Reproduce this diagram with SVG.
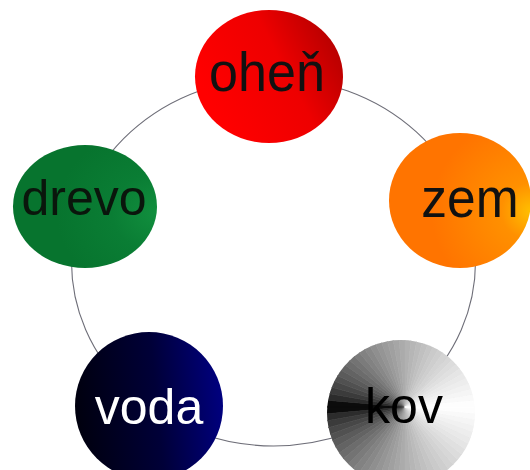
<svg xmlns="http://www.w3.org/2000/svg" width="530" height="470" viewBox="0 0 530 470">
<style>
.ring{fill:none;stroke:#6e6e78;stroke-width:1.1}
.lbl{font-family:"Liberation Sans",Arial,sans-serif;text-anchor:middle}
.w{fill:currentColor;stroke:currentColor;stroke-width:0.7}
</style>
<defs>
<linearGradient id="gOhen" x1="0.15" y1="0.8" x2="1" y2="0.4">
<stop offset="0" stop-color="#ff0000"/>
<stop offset="0.6" stop-color="#ee0000"/>
<stop offset="1" stop-color="#bb0000"/>
</linearGradient>
<radialGradient id="gZem" cx="1" cy="0.58" r="0.7">
<stop offset="0" stop-color="#ffc000"/>
<stop offset="0.3" stop-color="#ff9000"/>
<stop offset="1" stop-color="#ff7400"/>
</radialGradient>
<radialGradient id="gDrevo" cx="1" cy="0.55" r="0.7">
<stop offset="0" stop-color="#118f3e"/>
<stop offset="0.45" stop-color="#0a7d34"/>
<stop offset="1" stop-color="#07742e"/>
</radialGradient>
<linearGradient id="gVoda" x1="0" y1="0.5" x2="1" y2="0.4">
<stop offset="0" stop-color="#00000e"/>
<stop offset="0.55" stop-color="#000038"/>
<stop offset="1" stop-color="#000080"/>
</linearGradient>
<clipPath id="cKov"><ellipse cx="401" cy="413" rx="74" ry="73"/></clipPath>
</defs>
<rect width="530" height="470" fill="#ffffff"/>
<g id="connectors">
<ellipse class="ring" cx="273.5" cy="262" rx="202" ry="184"/>
</g>
<g id="ohen">
<ellipse cx="269" cy="76.5" rx="74" ry="66.5" fill="url(#gOhen)"/>
<text class="lbl" transform="translate(267,90.5) scale(0.93,1)" font-size="56" fill="#111">oheň</text>
</g>
<g id="zem">
<ellipse cx="460" cy="200.5" rx="71" ry="67.5" fill="url(#gZem)"/>
<text class="lbl" transform="translate(470,217) scale(0.92,1)" font-size="56" fill="#111">zem</text>
</g>
<g id="drevo">
<ellipse cx="85" cy="206.5" rx="72" ry="61.5" fill="url(#gDrevo)"/>
<text class="lbl" x="84" y="215" font-size="50" fill="#0a160c">drevo</text>
</g>
<g id="voda">
<ellipse cx="149" cy="406" rx="74" ry="74" fill="url(#gVoda)"/>
<text class="lbl" x="149" y="424" font-size="50" fill="#ffffff">voda</text>
</g>
<g id="kov">
<g clip-path="url(#cKov)">
<path class="w" color="#0c0c0c" d="M405 407L295 407L295.42 397.41ZM405 407L295 407L295.42 416.59Z"/>
<path class="w" color="#2c2c2c" d="M405 407L295.42 397.41L296.67 387.9ZM405 407L295.42 416.59L296.67 426.1Z"/>
<path class="w" color="#3b3b3b" d="M405 407L296.67 387.9L298.75 378.53ZM405 407L296.67 426.1L298.75 435.47Z"/>
<path class="w" color="#474747" d="M405 407L298.75 378.53L301.63 369.38ZM405 407L298.75 435.47L301.63 444.62Z"/>
<path class="w" color="#515151" d="M405 407L301.63 369.38L305.31 360.51ZM405 407L301.63 444.62L305.31 453.49Z"/>
<path class="w" color="#5b5b5b" d="M405 407L305.31 360.51L309.74 352ZM405 407L305.31 453.49L309.74 462Z"/>
<path class="w" color="#636363" d="M405 407L309.74 352L314.89 343.91ZM405 407L309.74 462L314.89 470.09Z"/>
<path class="w" color="#6c6c6c" d="M405 407L314.89 343.91L320.74 336.29ZM405 407L314.89 470.09L320.74 477.71Z"/>
<path class="w" color="#737373" d="M405 407L320.74 336.29L327.22 329.22ZM405 407L320.74 477.71L327.22 484.78Z"/>
<path class="w" color="#7b7b7b" d="M405 407L327.22 329.22L334.29 322.74ZM405 407L327.22 484.78L334.29 491.26Z"/>
<path class="w" color="#828282" d="M405 407L334.29 322.74L341.91 316.89ZM405 407L334.29 491.26L341.91 497.11Z"/>
<path class="w" color="#888888" d="M405 407L341.91 316.89L350 311.74ZM405 407L341.91 497.11L350 502.26Z"/>
<path class="w" color="#8f8f8f" d="M405 407L350 311.74L358.51 307.31ZM405 407L350 502.26L358.51 506.69Z"/>
<path class="w" color="#959595" d="M405 407L358.51 307.31L367.38 303.63ZM405 407L358.51 506.69L367.38 510.37Z"/>
<path class="w" color="#9b9b9b" d="M405 407L367.38 303.63L376.53 300.75ZM405 407L367.38 510.37L376.53 513.25Z"/>
<path class="w" color="#a0a0a0" d="M405 407L376.53 300.75L385.9 298.67ZM405 407L376.53 513.25L385.9 515.33Z"/>
<path class="w" color="#a6a6a6" d="M405 407L385.9 298.67L395.41 297.42ZM405 407L385.9 515.33L395.41 516.58Z"/>
<path class="w" color="#ababab" d="M405 407L395.41 297.42L405 297ZM405 407L395.41 516.58L405 517Z"/>
<path class="w" color="#b1b1b1" d="M405 407L405 297L414.59 297.42ZM405 407L405 517L414.59 516.58Z"/>
<path class="w" color="#b6b6b6" d="M405 407L414.59 297.42L424.1 298.67ZM405 407L414.59 516.58L424.1 515.33Z"/>
<path class="w" color="#bbbbbb" d="M405 407L424.1 298.67L433.47 300.75ZM405 407L424.1 515.33L433.47 513.25Z"/>
<path class="w" color="#c0c0c0" d="M405 407L433.47 300.75L442.62 303.63ZM405 407L433.47 513.25L442.62 510.37Z"/>
<path class="w" color="#c5c5c5" d="M405 407L442.62 303.63L451.49 307.31ZM405 407L442.62 510.37L451.49 506.69Z"/>
<path class="w" color="#cacaca" d="M405 407L451.49 307.31L460 311.74ZM405 407L451.49 506.69L460 502.26Z"/>
<path class="w" color="#cecece" d="M405 407L460 311.74L468.09 316.89ZM405 407L460 502.26L468.09 497.11Z"/>
<path class="w" color="#d3d3d3" d="M405 407L468.09 316.89L475.71 322.74ZM405 407L468.09 497.11L475.71 491.26Z"/>
<path class="w" color="#d7d7d7" d="M405 407L475.71 322.74L482.78 329.22ZM405 407L475.71 491.26L482.78 484.78Z"/>
<path class="w" color="#dcdcdc" d="M405 407L482.78 329.22L489.26 336.29ZM405 407L482.78 484.78L489.26 477.71Z"/>
<path class="w" color="#e0e0e0" d="M405 407L489.26 336.29L495.11 343.91ZM405 407L489.26 477.71L495.11 470.09Z"/>
<path class="w" color="#e5e5e5" d="M405 407L495.11 343.91L500.26 352ZM405 407L495.11 470.09L500.26 462Z"/>
<path class="w" color="#e9e9e9" d="M405 407L500.26 352L504.69 360.51ZM405 407L500.26 462L504.69 453.49Z"/>
<path class="w" color="#ededed" d="M405 407L504.69 360.51L508.37 369.38ZM405 407L504.69 453.49L508.37 444.62Z"/>
<path class="w" color="#f1f1f1" d="M405 407L508.37 369.38L511.25 378.53ZM405 407L508.37 444.62L511.25 435.47Z"/>
<path class="w" color="#f5f5f5" d="M405 407L511.25 378.53L513.33 387.9ZM405 407L511.25 435.47L513.33 426.1Z"/>
<path class="w" color="#f9f9f9" d="M405 407L513.33 387.9L514.58 397.41ZM405 407L513.33 426.1L514.58 416.59Z"/>
<path class="w" color="#fdfdfd" d="M405 407L514.58 397.41L515 407ZM405 407L514.58 416.59L515 407Z"/>
</g>
<text class="lbl" x="404" y="423" font-size="50" fill="#000000">kov</text>
</g>
</svg>
